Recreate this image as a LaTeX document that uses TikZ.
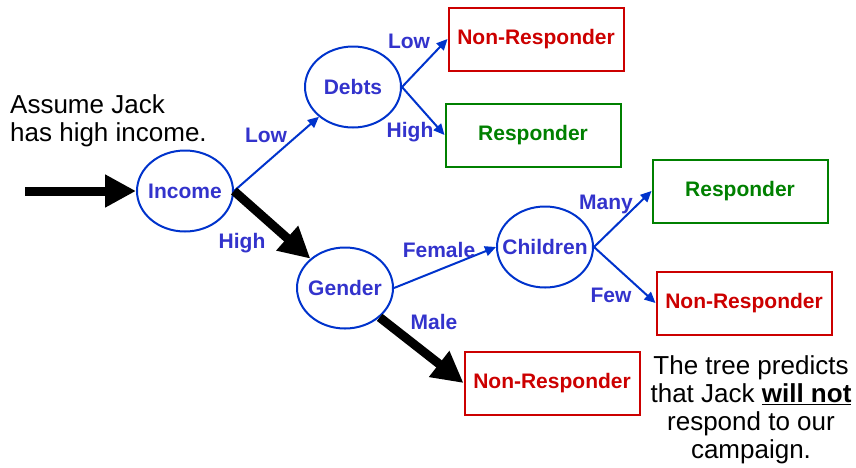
\documentclass[tikz,border=0pt]{standalone}
\usepackage{fontspec}
\setmainfont{Liberation Sans}
\usetikzlibrary{arrows.meta, shapes.geometric}
\definecolor{treeBlue}{RGB}{0, 51, 204}
\definecolor{lblBlue}{RGB}{51, 51, 204}
\definecolor{resGreen}{RGB}{0, 128, 0}
\definecolor{nonRed}{RGB}{204, 0, 0}

\begin{document}
\begin{tikzpicture}[
    x=1pt, y=-1pt,
    every node/.style={font=\bfseries\fontsize{21}{24}\selectfont},
    splitnode/.style={
        ellipse, draw=treeBlue, line width=2pt, text=lblBlue,
        minimum width=96pt, minimum height=81pt, inner xsep=-18pt, inner ysep=0pt
    },
    leafbox/.style={
        rectangle, draw, line width=2pt,
        minimum width=175pt, minimum height=63pt, inner sep=0pt
    },
    resbox/.style={leafbox, draw=resGreen, text=resGreen},
    nonbox/.style={leafbox, draw=nonRed, text=nonRed},
    branch/.style={text=lblBlue, anchor=base, inner sep=0pt},
    thinarrow/.style={-{Triangle[length=11pt, width=10pt]}, line width=2pt, treeBlue},
    pathArrow/.style={-{Triangle[length=31pt, width=31pt]}, line width=9pt, black},
    remark/.style={font=\fontsize{26}{28}\selectfont, inner sep=0pt}
]
\useasboundingbox (0,0) rectangle (856,467);

% split nodes
\node[splitnode] (income)   at (185,191) {Income};
\node[splitnode] (debts)    at (353,87)  {Debts};
\node[splitnode] (gender)   at (345,288) {Gender};
\node[splitnode] (children) at (545,247) {Children};

% leaves
\node[nonbox] (nr1) at (536,39)  {Non-Responder};
\node[resbox] (r1)  at (533,135) {Responder};
\node[resbox] (r2)  at (740,191) {Responder};
\node[nonbox] (nr2) at (744,303) {Non-Responder};
\node[nonbox] (nr3) at (552,383) {Non-Responder};

% remarks
\node[remark, anchor=north west, align=left] (assume) at (10,94) {Assume Jack\\has high income.};
\node[remark, anchor=north, align=center] (predict) at (751,355)
    {The tree predicts\\that Jack \underline{\textbf{will not}}\\respond to our\\campaign.};

% branches
\draw[thinarrow] (income.east) -- (debts);
\draw[thinarrow] (debts.east) -- (nr1.west);
\draw[thinarrow] (debts.east) -- (r1.west);
\draw[thinarrow] (gender.east) -- (children.west);
\draw[thinarrow] (children.east) -- (r2.west);
\draw[thinarrow] (children.east) -- (nr2.west);

% Jack's path
\coordinate (start) at (25,191);
\draw[pathArrow] (start) -- (income.west);
\draw[pathArrow] (income.east) -- (gender.north west);
\draw[pathArrow] (gender.south east) -- (nr3.west);

% branch labels
\node[branch] (lowInc)   at (266,142) {Low};
\node[branch] (highInc)  at (242,248) {High};
\node[branch] (lowDebt)  at (409,48)  {Low};
\node[branch] (highDebt) at (410,137) {High};
\node[branch] (female)   at (439,257) {Female};
\node[branch] (male)     at (434,329) {Male};
\node[branch] (many)     at (606,209) {Many};
\node[branch] (few)      at (611,302) {Few};
\end{tikzpicture}
\end{document}
